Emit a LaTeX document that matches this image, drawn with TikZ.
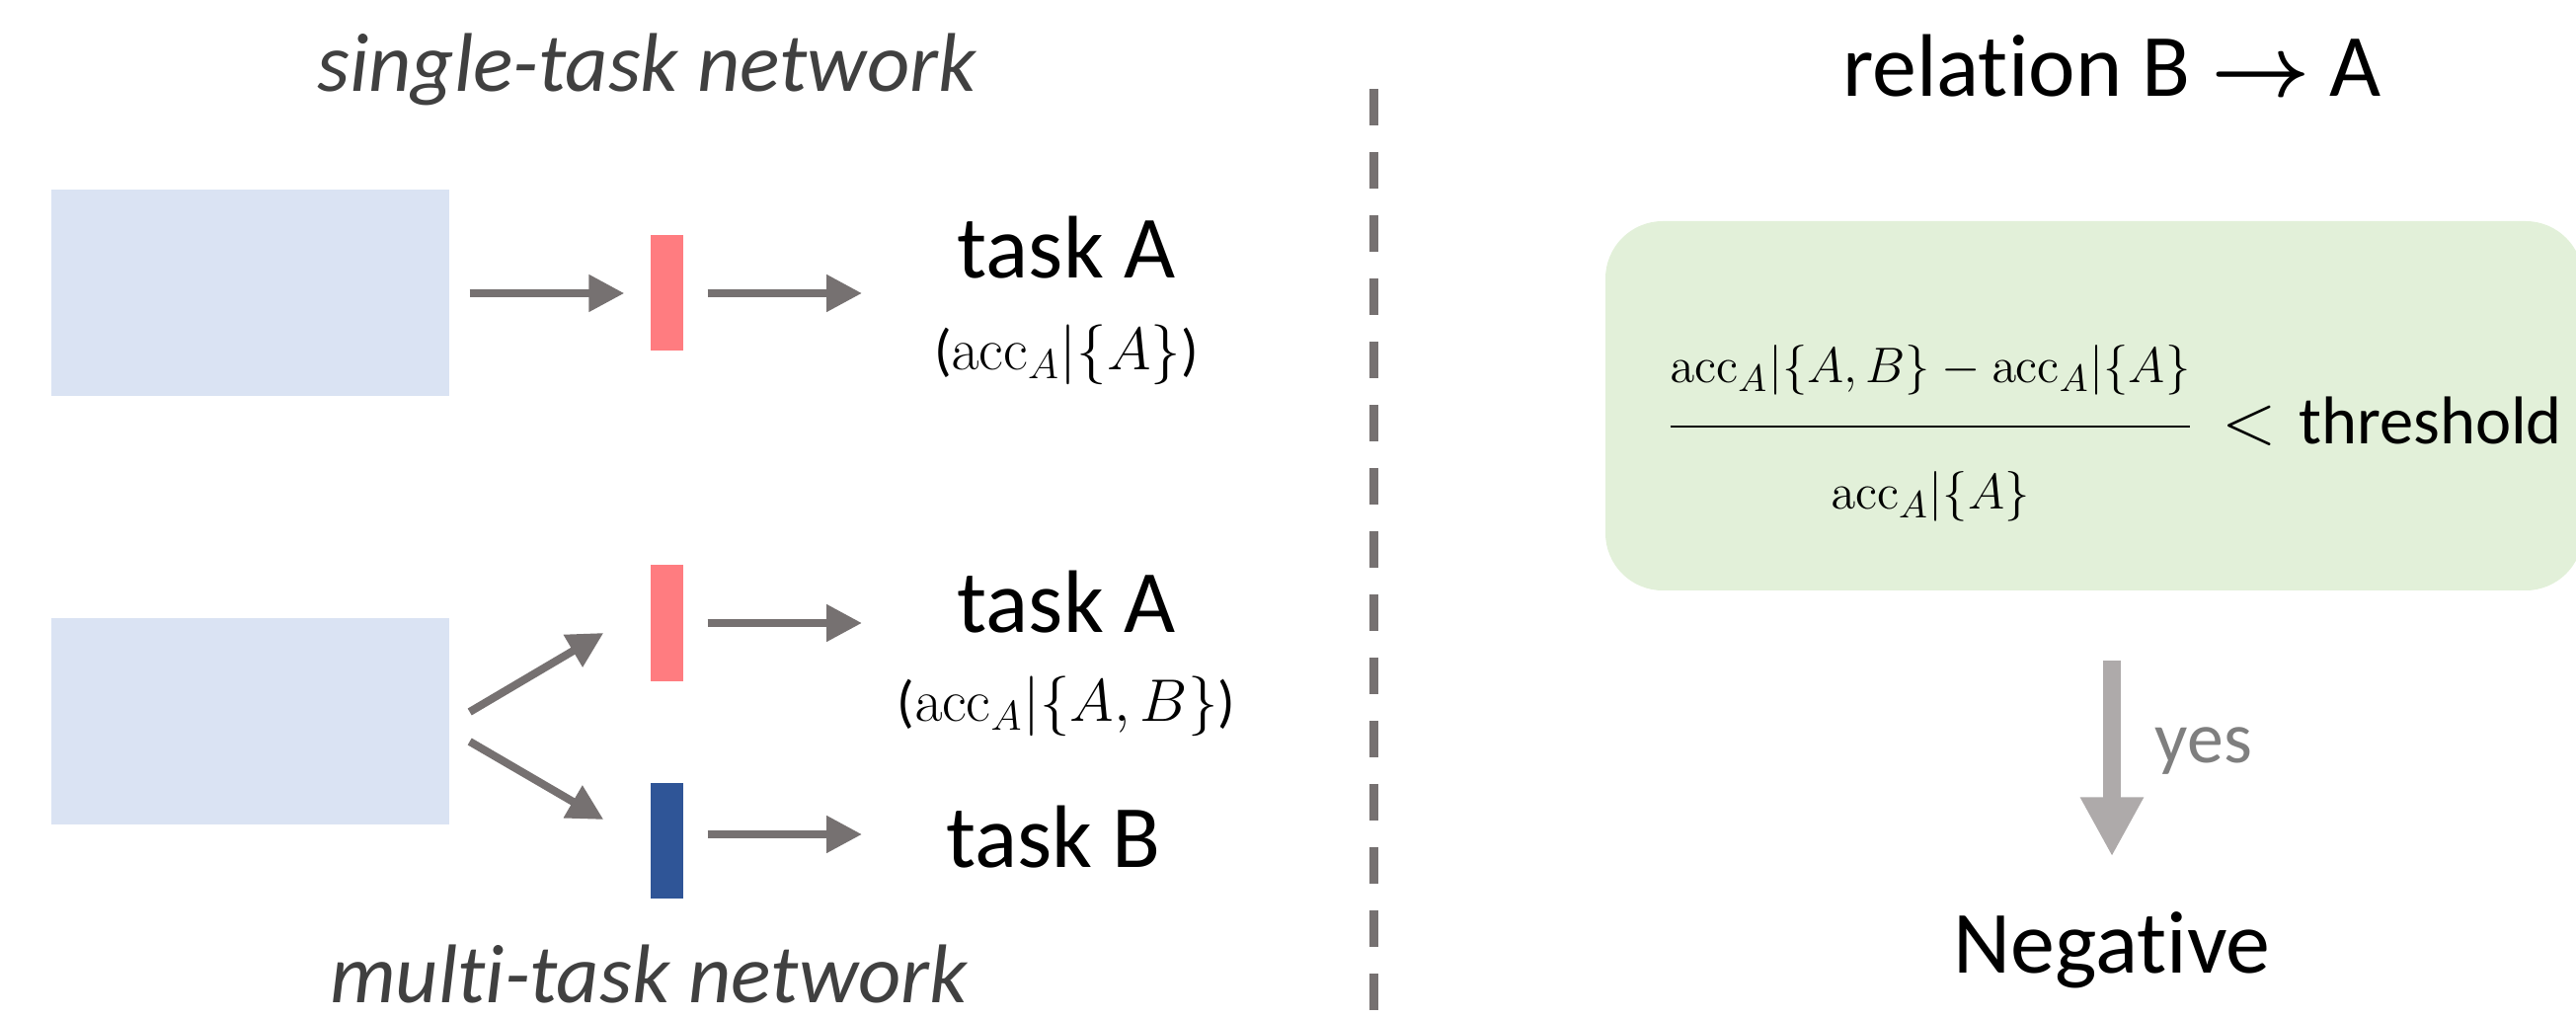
\documentclass[tikz,border=0pt]{standalone}
\usepackage{amsmath,amssymb}
\usepackage[no-math]{fontspec}
\setmainfont{Carlito}[Ligatures=NoCommon]
\usetikzlibrary{positioning,arrows.meta}

\definecolor{inblue}{HTML}{DAE3F3}
\definecolor{headred}{HTML}{FF7C80}
\definecolor{headblue}{HTML}{2F5597}
\definecolor{arrowgray}{HTML}{767171}
\definecolor{lightgray}{HTML}{AEAAAA}
\definecolor{condgreen}{HTML}{E2F0D9}
\definecolor{labelgray}{HTML}{404040}
\definecolor{yesgray}{HTML}{7F7F7F}

\tikzset{
	inbox/.style={fill=inblue, minimum width=4.03cm, minimum height=2.09cm, inner sep=0pt},
	headbar/.style={minimum width=0.33cm, minimum height=1.17cm, inner sep=0pt},
	flow/.style={draw=arrowgray, line width=0.08cm, -{Triangle[length=0.36cm,width=0.36cm]}},
	bigflow/.style={draw=lightgray, line width=0.18cm, -{Triangle[length=0.6cm,width=0.6cm]}},
	divider/.style={draw=arrowgray, line width=0.09cm, dash pattern=on 0.37cm off 0.27cm},
	task/.style={font=\fontsize{25.6}{30}\selectfont, inner sep=0pt},
	acc/.style={font=\fontsize{16.5}{20}\selectfont, inner sep=0pt},
	netlabel/.style={font=\fontsize{24}{29}\selectfont\itshape, text=labelgray, inner sep=0pt},
	cond/.style={fill=condgreen, rounded corners=0.58cm, minimum width=9.9cm, minimum height=3.74cm},
	formula/.style={font=\fontsize{15.5}{19}\selectfont, inner sep=0pt},
	thr/.style={font=\fontsize{19.5}{23}\selectfont, inner sep=0pt},
	yeslbl/.style={font=\fontsize{21}{25}\selectfont, text=yesgray, inner sep=0pt},
}

\begin{document}
\begin{tikzpicture}
	\useasboundingbox (0,0) rectangle (26.09,-10.31);

	\node[netlabel, anchor=base] (single) at (6.55,-0.925) {single-task network};
	\node[inbox] (inS) at (2.535,-2.97) {};
	\node[headbar, fill=headred] (hS) at (6.755,-2.97) {};
	\coordinate (oS) at (8.73,-2.97);
	\node[task, anchor=base] (tS) at (10.8,-2.82) {task A};
	\node[acc, below=0.45cm of tS] (aS) {(\(\mathrm{acc}_A|\{A\}\))};

	\node[inbox] (inM) at (2.535,-7.305) {};
	\node[headbar, fill=headred] (hMA) at (6.755,-6.31) {};
	\node[headbar, fill=headblue] (hMB) at (6.755,-8.515) {};
	\coordinate (oMA) at (8.73,-6.31);
	\coordinate (oMB) at (8.73,-8.45);
	\node[task, anchor=base] (tMA) at (10.8,-6.41) {task A};
	\node[acc, below=0.42cm of tMA] (aMA) {(\(\mathrm{acc}_A|\{A,B\}\))};
	\node[task, anchor=base] (tMB) at (10.67,-8.78) {task B};
	\node[netlabel, anchor=base] (multi) at (6.57,-10.15) {multi-task network};

	\draw[flow, shorten <=0.2cm, shorten >=0.26cm] (inS) -- (hS);
	\draw[flow, shorten <=0.24cm] (hS) -- (oS);
	\draw[flow] ([shift={(0.2,0.095)}]inM.east) -- ([shift={(-0.47,-0.1)}]hMA.west);
	\draw[flow] ([shift={(0.2,-0.205)}]inM.east) -- ([shift={(-0.47,0.215)}]hMB.west);
	\draw[flow, shorten <=0.24cm] (hMA) -- (oMA);
	\draw[flow, shorten <=0.24cm] (hMB.east |- oMB) -- (oMB);

	\coordinate (divtop) at (13.91,-0.9);
	\coordinate (divbot) at (13.91,-10.31);
	\draw[divider] (divtop) -- (divbot);

	\node[task, anchor=base] (rel) at (21.39,-0.98) {relation B {\boldmath$\rightarrow$} A};
	\node[cond] (box) at (21.21,-4.11) {};
	\node[formula, anchor=base] (frac) at (19.55,-4.45)
		{$\dfrac{\mathrm{acc}_A|\{A,B\}-\mathrm{acc}_A|\{A\}\rule[-0.37cm]{0pt}{0.37cm}}{\rule{0pt}{0.76cm}\mathrm{acc}_A|\{A\}}$};
	\node[thr, anchor=base west] (less) at (22.5,-4.5) {$<$\hspace{0.22cm}threshold};

	\node[task, anchor=base] (neg) at (21.39,-9.85) {Negative};
	\draw[bigflow, shorten <=0.7cm, shorten >=0.55cm] (neg |- box.south) -- (neg.north);
	\node[yeslbl, anchor=base west] (yes) at (21.82,-7.72) {yes};
\end{tikzpicture}
\end{document}
